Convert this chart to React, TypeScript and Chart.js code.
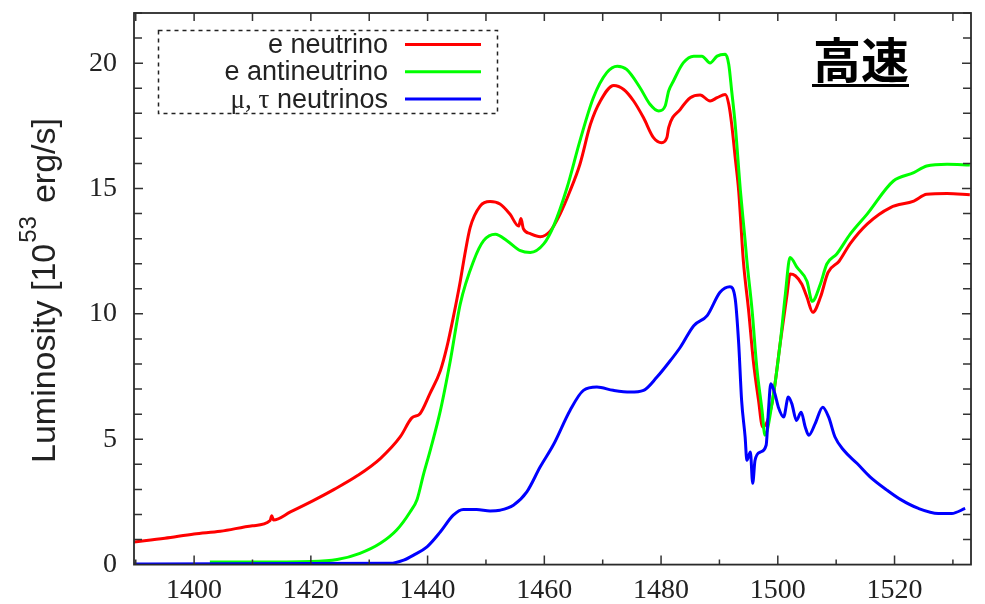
import React, { useEffect, useRef } from "react";
import { Chart, registerables } from "chart.js";

Chart.register(...registerables);

// ---- data ----
const redTime = [
  1389.7, 1395, 1400, 1404.5, 1410, 1413, 1413.3, 1413.6, 1416.5, 1420.4, 1424, 1428, 1431.9, 1435.3,
  1437.3, 1438.7, 1440.4, 1442.2, 1443.3, 1444.4, 1445.6, 1446.4, 1447.3, 1449, 1450.7, 1452.4,
  1454.1, 1455.6, 1456.0, 1456.4, 1457.6, 1459.3, 1461, 1462.7, 1464.4, 1466.1, 1467.9, 1469.6,
  1471.9, 1473.6, 1475.3, 1477, 1478.7, 1480.1, 1481, 1481.3, 1483.3, 1485, 1486.7, 1488.4, 1489.6,
  1491, 1491.6, 1492.1, 1492.7, 1493.3, 1494.1, 1495, 1495.8, 1496.7, 1497.4, 1499, 1500.4, 1501.6,
  1502.1, 1503, 1504.1, 1505, 1506, 1507.3, 1508.6, 1510.5, 1512.4, 1515.3, 1519.3, 1523.3, 1525.5,
  1529, 1532.9,
];
const redLum = [
  0.9, 1.05, 1.22, 1.33, 1.55, 1.75, 1.95, 1.78, 2.1, 2.55, 3.0, 3.55, 4.23, 5.09,
  5.85, 6.02, 6.82, 7.74, 8.67, 9.86, 11.3, 12.4, 13.45, 14.3, 14.48, 14.38,
  13.98, 13.5, 13.8, 13.4, 13.2, 13.08, 13.3, 13.98, 14.9, 15.97, 17.56, 18.49,
  19.11, 18.95, 18.49, 17.82, 17.03, 16.83, 17.03, 17.43, 18.16, 18.62, 18.73, 18.49, 18.62,
  18.75, 18.36, 17.56, 16.23, 14.9, 12.1, 10.13, 8.14, 6.55, 5.49, 6.42, 8.81, 10.8,
  11.59, 11.52, 11.19, 10.66, 10.06, 10.66, 11.65, 12.1, 12.8, 13.58, 14.24, 14.5, 14.77,
  14.8, 14.75,
];

const greenTime = [
  1402.7, 1410, 1420, 1424.5, 1428.4, 1431.9, 1434.7, 1437, 1438.2, 1439.3, 1440.5, 1442.2, 1443.9,
  1445.6, 1447.9, 1449.6, 1451.6, 1453.6, 1455.9, 1457.6, 1459.9, 1461.6, 1463.9, 1466.1, 1468.4,
  1470.7, 1472.5, 1474.1, 1476.4, 1478.1, 1479.6, 1480.7, 1481.3, 1482.1, 1483.8, 1485.6, 1487,
  1488.4, 1489.6, 1491, 1491.6, 1492.1, 1492.7, 1493.6, 1494.4, 1494.7, 1495.6, 1496.4, 1497.3,
  1497.8, 1499, 1500.4, 1501.3, 1502.1, 1503.3, 1505, 1505.9, 1507.3, 1508.4, 1510.1, 1512.4,
  1515.3, 1519.8, 1523.3, 1525.5, 1529, 1532.9,
];
const greenLum = [
  0.1, 0.1, 0.12, 0.2, 0.45, 0.85, 1.38, 2.1, 2.6, 3.6, 4.6, 6.15, 8.14,
  10.4, 12.12, 12.92, 13.18, 12.92, 12.52, 12.45, 12.79, 13.51, 15.04, 16.9, 18.62,
  19.62, 19.88, 19.75, 19.02, 18.36, 18.09, 18.29, 18.89, 19.28, 20.01, 20.28, 20.28,
  20.01, 20.28, 20.35, 19.95, 18.89, 17.56, 14.9, 12.92, 12.12, 10.13, 7.87, 6.15,
  5.16, 6.42, 8.81, 10.8, 12.25, 11.85, 11.3, 10.5, 11.19, 11.99, 12.39, 13.18,
  13.98, 15.3, 15.63, 15.9, 15.97, 15.94,
];

const blueTime = [
  1389.7, 1433.6, 1435.9, 1437.6, 1439.9, 1442.2, 1444.4, 1446.1, 1448.4, 1450.7, 1452.4, 1454.7,
  1457, 1459.3, 1461.6, 1464.4, 1466.7, 1469, 1471.8, 1474.7, 1477, 1479.3, 1481.6, 1483.3, 1485.6,
  1487.9, 1490.1, 1491.8, 1492.7, 1493.3, 1493.8, 1494.4, 1494.7, 1495.3, 1495.7, 1496.1, 1497,
  1498, 1498.4, 1498.8, 1499.5, 1500.1, 1501, 1501.8, 1502.4, 1503.2, 1504, 1504.7, 1505.3, 1506.4,
  1507.7, 1508.7, 1509.8, 1511.3, 1513.6, 1515.8, 1518.7, 1521, 1524.1, 1527.5, 1529.8, 1532.1,
];
const blueLum = [
  0.02, 0.05, 0.18, 0.38, 0.71, 1.31, 1.97, 2.2, 2.2, 2.14, 2.17, 2.37,
  2.9, 3.9, 4.8, 6.15, 6.95, 7.08, 6.95, 6.88, 6.95, 7.48, 8.14, 8.67, 9.53,
  9.93, 10.86, 11.08, 10.6, 8.81, 6.55, 5.09, 4.16, 4.49, 3.24, 4.16, 4.49,
  4.76, 6.15, 7.21, 6.82, 6.28, 5.89, 6.68, 6.42, 5.75, 6.08, 5.49, 5.16, 5.62,
  6.28, 5.89, 5.09, 4.56, 4.03, 3.5, 2.97, 2.6, 2.24, 2.04, 2.04, 2.24,
];

const seriesNames = ["e neutrino", "e antineutrino", "μ, τ neutrinos"];
const seriesColors = ["#ff0000", "#00ff00", "#0000ff"];
const xTickValues = [1400, 1420, 1440, 1460, 1480, 1500, 1520];
const yTickValues = [0, 5, 10, 15, 20];
const xMinorStep = 10;
const yMinorStep = 1;
const xRange = [1389.7, 1533.1];
const yRange = [0, 22];
const titleText = "高速";
const yLabelMain = "Luminosity [10";
const yLabelSup = "53";
const yLabelTail = "erg/s]";

const toPoints = (t: number[], l: number[]) => t.map((x, i) => ({ x, y: l[i] }));

const decorPlugin = {
  id: "decor",
  afterDraw(chart: any) {
    const { ctx, chartArea: a, scales } = chart;
    const xs = scales.x;
    const ys = scales.y;
    ctx.save();

    // tick marks (inward, mirrored)
    ctx.strokeStyle = "#333";
    ctx.lineWidth = 1.5;
    ctx.setLineDash([]);
    ctx.beginPath();
    for (let v = Math.ceil(xRange[0] / xMinorStep) * xMinorStep; v <= xRange[1]; v += xMinorStep) {
      const px = xs.getPixelForValue(v);
      const major = xTickValues.includes(v);
      const lb = major ? 9 : 5;
      ctx.moveTo(px, a.bottom);
      ctx.lineTo(px, a.bottom - lb);
      ctx.moveTo(px, a.top);
      ctx.lineTo(px, a.top + 8);
    }
    for (let v = yRange[0] + yMinorStep; v < yRange[1] + 0.001; v += yMinorStep) {
      const py = ys.getPixelForValue(v);
      const major = yTickValues.includes(v);
      const l = major ? 9 : 8;
      ctx.moveTo(a.left, py);
      ctx.lineTo(a.left + l, py);
      ctx.moveTo(a.right, py);
      ctx.lineTo(a.right - l, py);
    }
    ctx.stroke();

    // frame
    ctx.lineWidth = 1.8;
    ctx.strokeStyle = "#2a2a2a";
    ctx.strokeRect(a.left, a.top, a.right - a.left, a.bottom - a.top);

    // y-axis title with superscript
    ctx.save();
    ctx.translate(55, 463);
    ctx.rotate(-Math.PI / 2);
    ctx.fillStyle = "#222";
    ctx.textBaseline = "alphabetic";
    ctx.textAlign = "left";
    ctx.font = "34px 'Liberation Sans', Arial, sans-serif";
    ctx.fillText(yLabelMain, 0, 0);
    let off = ctx.measureText(yLabelMain).width + 1;
    ctx.font = "24px 'Liberation Sans', Arial, sans-serif";
    ctx.fillText(yLabelSup, off, -19);
    off += ctx.measureText(yLabelSup).width + 13;
    ctx.font = "34px 'Liberation Sans', Arial, sans-serif";
    ctx.fillText(yLabelTail, off, 0);
    ctx.restore();

    // legend box
    ctx.save();
    ctx.strokeStyle = "#222";
    ctx.lineWidth = 1.5;
    ctx.setLineDash([4, 4]);
    ctx.strokeRect(158.5, 30.5, 339, 83);
    ctx.setLineDash([]);
    ctx.textBaseline = "alphabetic";
    seriesNames.forEach((name, i) => {
      const base = 53 + 27.3 * i;
      const right = 388;
      ctx.fillStyle = "#222";
      if (name.startsWith("μ")) {
        const greek = "μ, τ";
        const rest = " neutrinos";
        ctx.font = "27px 'Liberation Sans', Arial, sans-serif";
        const wRest = ctx.measureText(rest).width;
        ctx.textAlign = "right";
        ctx.fillText(rest, right, base);
        ctx.font = "27px 'Liberation Serif', 'Times New Roman', serif";
        ctx.fillText(greek, right - wRest, base);
      } else {
        ctx.font = "27px 'Liberation Sans', Arial, sans-serif";
        ctx.textAlign = "right";
        ctx.fillText(name, right, base);
      }
      ctx.strokeStyle = seriesColors[i];
      ctx.lineWidth = 3;
      ctx.beginPath();
      const ly = 44.5 + 27.3 * i;
      ctx.moveTo(405, ly);
      ctx.lineTo(481, ly);
      ctx.stroke();
    });
    ctx.restore();

    // title
    ctx.fillStyle = "#000";
    ctx.font = "bold 48px 'Noto Sans CJK JP', 'Noto Sans CJK SC', sans-serif";
    ctx.textAlign = "left";
    ctx.textBaseline = "alphabetic";
    ctx.fillText(titleText, 813, 78);
    const tw = ctx.measureText(titleText).width;
    ctx.fillRect(812, 84, tw + 1, 3);

    ctx.restore();
  },
};

export default function App() {
  const canvasRef = useRef<HTMLCanvasElement | null>(null);

  useEffect(() => {
    const canvas = canvasRef.current;
    if (!canvas) return;
    const tickFont = { family: "'Liberation Serif', 'Times New Roman', serif", size: 28 };
    const chart = new Chart(canvas, {
      type: "line",
      data: {
        datasets: [
          { label: seriesNames[0], data: toPoints(redTime, redLum), borderColor: seriesColors[0], order: 3 },
          { label: seriesNames[1], data: toPoints(greenTime, greenLum), borderColor: seriesColors[1], order: 2 },
          { label: seriesNames[2], data: toPoints(blueTime, blueLum), borderColor: seriesColors[2], order: 1 },
        ],
      },
      options: {
        animation: false,
        responsive: false,
        devicePixelRatio: 1,
        layout: { padding: { top: 13, right: 14, left: 0, bottom: 0 } },
        plugins: { legend: { display: false }, tooltip: { enabled: false }, title: { display: false } },
        elements: {
          point: { radius: 0 },
          line: { borderWidth: 3, cubicInterpolationMode: "monotone", fill: false },
        },
        scales: {
          x: {
            type: "linear",
            min: xRange[0],
            max: xRange[1],
            afterBuildTicks: (s: any) => {
              s.ticks = xTickValues.map((value) => ({ value }));
            },
            afterFit: (s: any) => {
              s.height = 39.4;
              s.paddingLeft = 0;
              s.paddingRight = 0;
            },
            grid: { display: false, drawTicks: false },
            border: { display: false },
            ticks: {
              font: tickFont,
              color: "#222",
              padding: 9,
              maxRotation: 0,
              autoSkip: false,
              callback: (v: any) => String(v),
            },
          },
          y: {
            type: "linear",
            min: yRange[0],
            max: yRange[1],
            afterBuildTicks: (s: any) => {
              s.ticks = yTickValues.map((value) => ({ value }));
            },
            afterFit: (s: any) => {
              s.width = 134;
              s.paddingTop = 0;
              s.paddingBottom = 0;
            },
            grid: { display: false, drawTicks: false },
            border: { display: false },
            ticks: { font: tickFont, color: "#222", padding: 17, autoSkip: false, callback: (v: any) => String(v) },
          },
        },
      } as any,
      plugins: [decorPlugin],
    });
    return () => chart.destroy();
  }, []);

  return (
    <div style={{ position: "absolute", left: 0, top: 0, width: 985, height: 604, background: "#fff" }}>
      <canvas ref={canvasRef} width={985} height={604} style={{ width: 985, height: 604, display: "block" }} />
    </div>
  );
}
